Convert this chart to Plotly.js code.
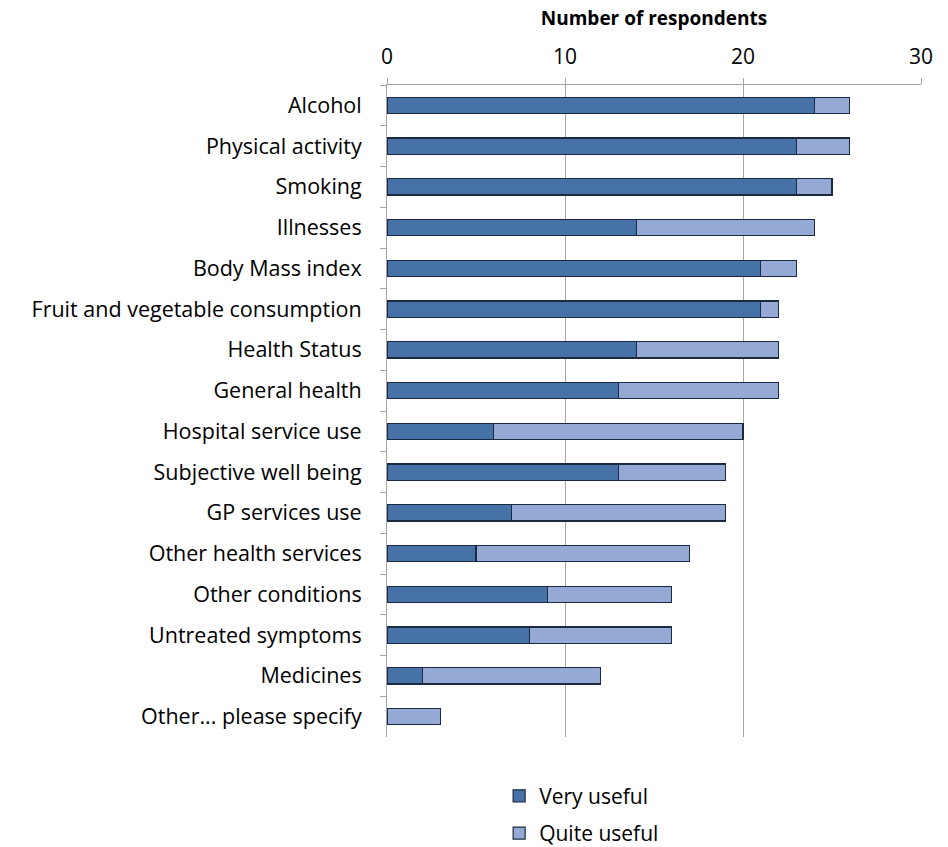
<!DOCTYPE html>
<html><head><meta charset="utf-8">
<script src="https://cdn.plot.ly/plotly-3.0.1.min.js"></script>
<style>body{margin:0;background:#fff}</style>
</head><body><div id="chart" style="width:948px;height:847px"></div>
<script>
const categories = ["Alcohol","Physical activity","Smoking","Illnesses","Body Mass index","Fruit and vegetable consumption","Health Status","General health","Hospital service use","Subjective well being","GP services use","Other health services","Other conditions","Untreated symptoms","Medicines","Other... please specify"];
const veryUseful = [24,23,23,14,21,21,14,13,6,13,7,5,9,8,2,0];
const quiteUseful = [2,3,2,10,2,1,8,9,14,6,12,12,7,8,10,3];
const xTicks = [0,10,20,30];

const font = "'Open Sans', sans-serif";
const data = [
  {type:'bar', orientation:'h', name:'Very useful', y:categories, x:veryUseful,
   marker:{color:'#4672a8', line:{color:'#1c2a40', width:1.2}}, legend:'legend'},
  {type:'bar', orientation:'h', name:'Quite useful', y:categories, x:quiteUseful,
   marker:{color:'#94aad4', line:{color:'#1c2a40', width:1.2}}, legend:'legend2'}
];
const layout = {
  width:948, height:847, barmode:'stack', bargap:0.6,
  margin:{l:387, r:27, t:85, b:110, autoexpand:false},
  paper_bgcolor:'#fff', plot_bgcolor:'#fff',
  font:{family:font, size:22, color:'#000'},
  xaxis:{side:'top', range:[0,30], tickvals:xTicks, ticktext:xTicks.map(String),
    showgrid:true, gridcolor:'#a6a6a6', gridwidth:1, zeroline:false,
    showline:true, linecolor:'#a6a6a6', ticks:'outside', ticklen:6, tickcolor:'#a6a6a6',
    tickfont:{size:21}, ticklabelstandoff:6,
    title:{text:'<b>Number of respondents</b>', font:{size:19}, standoff:10}},
  yaxis:{type:'category', autorange:'reversed', showline:true, linecolor:'#a6a6a6',
    ticks:'outside', tickson:'boundaries', ticklen:6, tickcolor:'#a6a6a6', showgrid:false,
    tickfont:{size:21.5}, ticklabelstandoff:20},
  legend:{x:0.21, y:0.06, xref:'paper', yref:'container', xanchor:'left', yanchor:'middle',
    font:{size:21}, bgcolor:'rgba(0,0,0,0)', itemwidth:30},
  legend2:{x:0.21, y:0.016, xref:'paper', yref:'container', xanchor:'left', yanchor:'middle',
    font:{size:21}, bgcolor:'rgba(0,0,0,0)', itemwidth:30},
  showlegend:true
};
Plotly.newPlot('chart', data, layout, {displayModeBar:false});
</script></body></html>
